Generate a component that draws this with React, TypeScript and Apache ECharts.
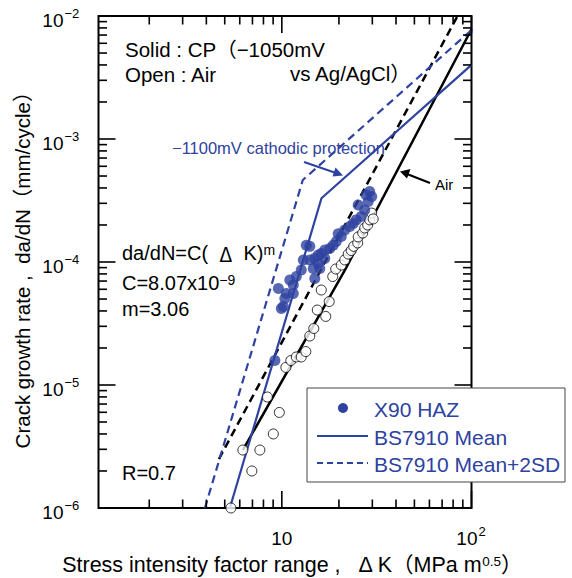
import React, { useEffect, useRef } from 'react';
import * as echarts from 'echarts';

const BLUE = '#2e42a0';
const FONT = '"Liberation Sans", "Noto Sans CJK JP", sans-serif';
const CJK = '"Noto Sans CJK JP", sans-serif';

const X_MIN = 1.08;
const X_MAX = 100;
const Y_MIN = 1e-6;
const Y_MAX = 1e-2;

// Air (open circles): ΔK and da/dN
const airK = [5.39, 6.23, 6.95, 7.66, 9.02, 8.39, 9.7, 10.5, 11.15, 11.92, 12.66, 13.38, 14.04, 14.74, 15.38, 17.04, 17.78, 16.14, 18.55, 19.24, 20.57, 21.46, 22.39, 23.22, 23.93, 25.12, 25.27, 26.69, 27.35, 28.35, 29.05, 29.77, 30.31];
const airRate = [1.0e-6, 2.96e-6, 2.0e-6, 2.96e-6, 4.0e-6, 7.99e-6, 5.98e-6, 1.39e-5, 1.58e-5, 1.69e-5, 1.69e-5, 1.87e-5, 2.5e-5, 2.88e-5, 4.07e-5, 3.61e-5, 4.77e-5, 5.92e-5, 7.62e-5, 8.77e-5, 9.45e-5, 1.04e-4, 1.16e-4, 1.24e-4, 1.34e-4, 1.43e-4, 1.6e-4, 1.72e-4, 1.89e-4, 2.0e-4, 2.2e-4, 2.5e-4, 2.24e-4];

// X90 HAZ in CP (filled circles)
const hazK = [29.05, 29.77, 27.85, 28.53, 25.27, 27.35, 26.2, 24.66, 23.78, 22.8, 21.46, 19.83, 20.57, 19.36, 18.66, 17.89, 16.84, 16.14, 15.56, 14.92, 16.84, 14.04, 13.46, 14.04, 12.98, 15.56, 14.65, 15.85, 14.92, 11.92, 11.02, 11.49, 9.59, 10.56, 11.49, 10.37, 10.18, 9.94, 9.19, 12.66];
const hazRate = [3.74e-4, 3.41e-4, 3.5e-4, 3.1e-4, 2.91e-4, 2.65e-4, 2.34e-4, 2.2e-4, 2.06e-4, 1.94e-4, 1.82e-4, 1.7e-4, 1.61e-4, 1.47e-4, 1.37e-4, 1.29e-4, 1.25e-4, 1.17e-4, 1.14e-4, 1.07e-4, 1.07e-4, 1.34e-4, 1.37e-4, 1.04e-4, 1.04e-4, 9.72e-5, 8.86e-5, 8.86e-5, 7.34e-5, 7.62e-5, 7.14e-5, 6.5e-5, 6.09e-5, 5.55e-5, 5.55e-5, 5.05e-5, 4.35e-5, 4.19e-5, 1.58e-5, 8.61e-5];

// Air mean (black solid) and Air mean+2SD (black dashed)
const airMeanK = [6.23, 21.5, 100];
const airMeanRate = [2.96e-6, 8.6e-5, 7.8e-3];
const airUpperK = [4.66, 84.4];
const airUpperRate = [2.5e-6, 1.0e-2];

// BS7910 two-stage curves (blue)
const bsMeanK = [5.32, 16.18, 100];
const bsMeanRate = [1.0e-6, 3.3e-4, 4.0e-3];
const bsUpperK = [3.93, 12.9, 100];
const bsUpperRate = [1.0e-6, 4.64e-4, 7.69e-3];

// Axis ticks
const xMajorTicks = [10, 100];
const xMinorTicks = [2, 3, 4, 5, 6, 7, 8, 9, 20, 30, 40, 50, 60, 70, 80, 90];
const yMajorTicks = [1e-6, 1e-5, 1e-4, 1e-3, 1e-2];
const yTickExp = ['−6', '−5', '−4', '−3', '−2'];
const yMinorTicks = [
  2e-6, 3e-6, 4e-6, 5e-6, 6e-6, 7e-6, 8e-6, 9e-6,
  2e-5, 3e-5, 4e-5, 5e-5, 6e-5, 7e-5, 8e-5, 9e-5,
  2e-4, 3e-4, 4e-4, 5e-4, 6e-4, 7e-4, 8e-4, 9e-4,
  2e-3, 3e-3, 4e-3, 5e-3, 6e-3, 7e-3, 8e-3, 9e-3,
];
const xTickBase = ['10', '10'];
const xTickExp = ['', '2'];

const zip = (a: number[], b: number[]) => a.map((v, i) => [v, b[i]]);

export default function App() {
  const ref = useRef<HTMLDivElement>(null);
  useEffect(() => {
    if (!ref.current) return;
    const chart = echarts.init(ref.current, undefined, { renderer: 'svg' });

    const MAJ = 17;
    const MIN = 8.5;
    const xTickData = [
      ...xMajorTicks.map((v) => [v, Y_MIN, MAJ]),
      ...xMinorTicks.map((v) => [v, Y_MIN, MIN]),
    ];
    const yTickData = [
      ...yMajorTicks.map((v) => [X_MIN, v, MAJ]),
      ...yMinorTicks.map((v) => [X_MIN, v, MIN]),
    ];
    const tickStyle = { stroke: '#000', lineWidth: 1.6 };

    const textBase = { fontFamily: FONT, fill: '#000' };
    const supRich = (base: number, sup: number, color: string) => ({
      a: { fontFamily: FONT, fontSize: base, fill: color, color },
      d: { fontFamily: CJK, fontSize: base, fill: color, color },
      s: { fontFamily: FONT, fontSize: sup, fill: color, color, verticalAlign: 'top' },
    });

    const option: any = {
      animation: false,
      backgroundColor: '#fff',
      grid: {
        left: 98.5,
        top: 16,
        width: 373,
        height: 492,
        show: true,
        borderColor: '#000',
        borderWidth: 2,
        backgroundColor: 'transparent',
      },
      xAxis: {
        type: 'log',
        logBase: 10,
        min: X_MIN,
        max: X_MAX,
        axisLine: { show: false },
        axisTick: { show: false },
        axisLabel: { show: false },
        splitLine: { show: false },
        minorTick: { show: false },
      },
      yAxis: {
        type: 'log',
        logBase: 10,
        min: Y_MIN,
        max: Y_MAX,
        axisLine: { show: false },
        axisTick: { show: false },
        axisLabel: { show: false },
        splitLine: { show: false },
        minorTick: { show: false },
      },
      series: [
        {
          type: 'custom',
          name: 'xticks',
          silent: true,
          clip: false,
          data: xTickData,
          encode: { x: 0, y: 1 },
          renderItem: (params: any, api: any) => {
            const v = api.value(0);
            const len = api.value(2);
            const cs = params.coordSys;
            const px = api.coord([v, Y_MIN])[0];
            const yb = cs.y + cs.height;
            const yt = cs.y;
            const children: any[] = [
              { type: 'line', shape: { x1: px, y1: yb, x2: px, y2: yb - len }, style: tickStyle },
              { type: 'line', shape: { x1: px, y1: yt, x2: px, y2: yt + len }, style: tickStyle },
            ];
            const i = params.dataIndex;
            if (i < xMajorTicks.length) {
              const exp = xTickExp[i];
              if (exp) {
                children.push({ type: 'text', style: { ...textBase, text: xTickBase[i], x: px + 6, y: yb + 30, fontSize: 19, align: 'right', verticalAlign: 'middle' } });
                children.push({ type: 'text', style: { ...textBase, text: exp, x: px + 7, y: yb + 23, fontSize: 13, align: 'left', verticalAlign: 'middle' } });
              } else {
                children.push({ type: 'text', style: { ...textBase, text: xTickBase[i], x: px, y: yb + 30, fontSize: 19, align: 'center', verticalAlign: 'middle' } });
              }
            }
            return { type: 'group', children };
          },
          z: 5,
        },
        {
          type: 'custom',
          name: 'yticks',
          silent: true,
          clip: false,
          data: yTickData,
          encode: { x: 0, y: 1 },
          renderItem: (params: any, api: any) => {
            const v = api.value(1);
            const len = api.value(2);
            const cs = params.coordSys;
            const py = api.coord([X_MIN, v])[1];
            const xl = cs.x;
            const xr = cs.x + cs.width;
            const children: any[] = [
              { type: 'line', shape: { x1: xl, y1: py, x2: xl + len, y2: py }, style: tickStyle },
              { type: 'line', shape: { x1: xr, y1: py, x2: xr - len, y2: py }, style: tickStyle },
            ];
            const i = params.dataIndex;
            if (i < yMajorTicks.length) {
              children.push({ type: 'text', style: { ...textBase, text: '10', x: xl - 35, y: py + 4, fontSize: 19, align: 'right', verticalAlign: 'middle' } });
              children.push({ type: 'text', style: { ...textBase, text: yTickExp[i], x: xl - 34, y: py - 3, fontSize: 13, align: 'left', verticalAlign: 'middle' } });
            }
            return { type: 'group', children };
          },
          z: 5,
        },
        {
          type: 'line',
          name: 'Air mean',
          data: zip(airMeanK, airMeanRate),
          showSymbol: false,
          symbol: 'none',
          lineStyle: { color: '#000', width: 2.5 },
          z: 2,
        },
        {
          type: 'line',
          name: 'Air mean+2SD',
          data: zip(airUpperK, airUpperRate),
          showSymbol: false,
          symbol: 'none',
          lineStyle: { color: '#000', width: 2.5, type: [8, 5] },
          z: 2,
        },
        {
          type: 'line',
          name: 'BS7910 Mean',
          data: zip(bsMeanK, bsMeanRate),
          showSymbol: false,
          symbol: 'none',
          lineStyle: { color: BLUE, width: 2.2 },
          z: 2,
        },
        {
          type: 'line',
          name: 'BS7910 Mean+2SD',
          data: zip(bsUpperK, bsUpperRate),
          showSymbol: false,
          symbol: 'none',
          lineStyle: { color: BLUE, width: 2.2, type: [8, 5] },
          z: 2,
        },
        {
          type: 'scatter',
          name: 'Air',
          data: zip(airK, airRate),
          symbol: 'circle',
          symbolSize: 10,
          clip: false,
          itemStyle: { color: '#fff', borderColor: '#000', borderWidth: 1 },
          z: 3,
        },
        {
          type: 'scatter',
          name: 'X90 HAZ',
          data: zip(hazK, hazRate),
          symbol: 'circle',
          symbolSize: 11,
          clip: false,
          itemStyle: { color: BLUE },
          z: 4,
        },
      ],
      graphic: [
        // axis titles
        {
          type: 'text',
          z: 100,
          x: 292,
          y: 565,
          style: {
            fontFamily: FONT,
            fill: '#000',
            text: '{a|Stress intensity factor range ,   Δ K（MPa m}{s|0.5}{a|）}',
            align: 'center',
            verticalAlign: 'middle',
            rich: supRich(21.5, 13.5, '#000'),
          },
        },
        {
          type: 'text',
          z: 100,
          x: 22,
          y: 265,
          rotation: Math.PI / 2,
          style: {
            ...textBase,
            text: 'Crack growth rate ,  da/dN（mm/cycle）',
            fontSize: 20.5,
            align: 'center',
            verticalAlign: 'middle',
          },
        },
        // in-plot notes
        { type: 'text', z: 100, x: 125, y: 49, style: { ...textBase, text: 'Solid : CP（−1050mV', fontSize: 20.5, verticalAlign: 'middle' } },
        { type: 'text', z: 100, x: 125, y: 74, style: { ...textBase, text: 'Open : Air', fontSize: 20.5, verticalAlign: 'middle' } },
        { type: 'text', z: 100, x: 290, y: 73, style: { ...textBase, text: 'vs Ag/AgCl）', fontSize: 20.5, verticalAlign: 'middle' } },
        { type: 'text', z: 100, x: 172, y: 148, style: { fontFamily: FONT, fill: BLUE, text: '−1100mV cathodic protection', fontSize: 16.5, verticalAlign: 'middle' } },
        { type: 'line', z: 100, shape: { x1: 304, y1: 162, x2: 336, y2: 173 }, style: { stroke: BLUE, lineWidth: 2 } },
        { type: 'polygon', z: 100, shape: { points: [[343, 175.5], [332.5, 176.5], [335.5, 167.5]] }, style: { fill: BLUE } },
        { type: 'text', z: 100, x: 435, y: 184, style: { ...textBase, text: 'Air', fontSize: 15, verticalAlign: 'middle' } },
        { type: 'line', z: 100, shape: { x1: 430, y1: 183, x2: 407, y2: 174 }, style: { stroke: '#000', lineWidth: 2 } },
        { type: 'polygon', z: 100, shape: { points: [[400, 171.5], [410.5, 169], [407, 178.5]] }, style: { fill: '#000' } },
        {
          type: 'text', z: 100, x: 122, y: 253,
          style: {
            fontFamily: FONT, fill: '#000',
            text: '{a|da/dN=C(  }{d|Δ}{a|  K)}{s|m}',
            verticalAlign: 'middle',
            rich: supRich(20, 14, '#000'),
          },
        },
        {
          type: 'text', z: 100, x: 122, y: 283,
          style: {
            fontFamily: FONT, fill: '#000',
            text: '{a|C=8.07x10}{s|−9}',
            verticalAlign: 'middle',
            rich: supRich(20, 14, '#000'),
          },
        },
        { type: 'text', z: 100, x: 122, y: 309, style: { ...textBase, text: 'm=3.06', fontSize: 20, verticalAlign: 'middle' } },
        { type: 'text', z: 100, x: 122, y: 473, style: { ...textBase, text: 'R=0.7', fontSize: 20, verticalAlign: 'middle' } },
        // legend
        {
          type: 'rect', z: 100,
          shape: { x: 307, y: 388, width: 258, height: 94 },
          style: { fill: '#fff', stroke: '#444', lineWidth: 1 },
        },
        { type: 'circle', z: 101, shape: { cx: 343, cy: 408, r: 5 }, style: { fill: BLUE } },
        { type: 'line', z: 101, shape: { x1: 317, y1: 436, x2: 368, y2: 436 }, style: { stroke: BLUE, lineWidth: 2 } },
        { type: 'line', z: 101, shape: { x1: 317, y1: 463, x2: 368, y2: 463 }, style: { stroke: BLUE, lineWidth: 2, lineDash: [6, 4] } },
        { type: 'text', z: 101, x: 374, y: 409, style: { fontFamily: FONT, fill: BLUE, text: 'X90 HAZ', fontSize: 21, verticalAlign: 'middle' } },
        { type: 'text', z: 101, x: 374, y: 437, style: { fontFamily: FONT, fill: BLUE, text: 'BS7910 Mean', fontSize: 21, verticalAlign: 'middle' } },
        { type: 'text', z: 101, x: 374, y: 464, style: { fontFamily: FONT, fill: BLUE, text: 'BS7910 Mean+2SD', fontSize: 21, verticalAlign: 'middle' } },
      ],
    };
    chart.setOption(option);
    return () => chart.dispose();
  }, []);
  return <div ref={ref} style={{ position: 'absolute', left: 0, top: 0, width: 572, height: 578 }} />;
}
